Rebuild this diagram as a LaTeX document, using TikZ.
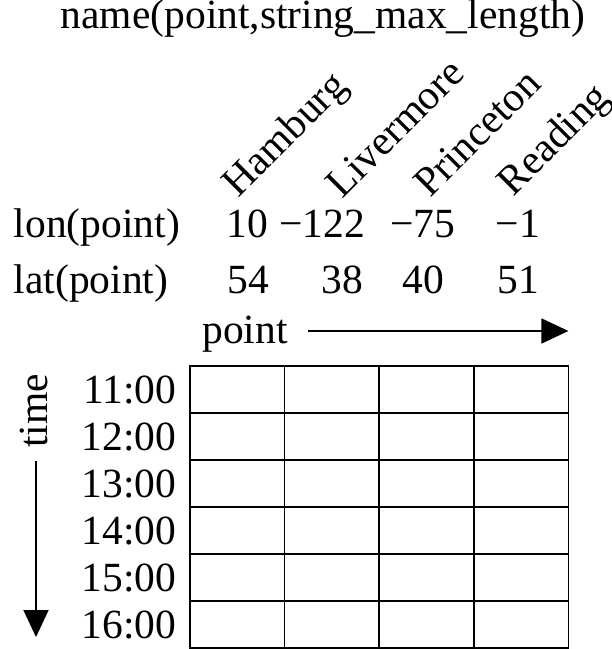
\documentclass[tikz,border=0pt]{standalone}
\usepackage{fontspec}
\setmainfont{Liberation Serif}
\usetikzlibrary{arrows.meta,positioning}

\begin{document}
\begin{tikzpicture}[x=1bp,y=-1bp,line width=1.7bp,
                    font=\fontsize{41.5bp}{49bp}\selectfont]
\tikzset{CellStyle/.style = {draw,rectangle,inner sep=0pt,
                             minimum width=94.6bp,minimum height=47bp},
         TextStyle/.style = {inner sep=0pt},
         CityStyle/.style = {TextStyle,rotate=45,anchor=base west},
         AxisStyle/.style = {-{Triangle[length=27bp,width=25bp]},
                             line width=1.8bp}}
\useasboundingbox (0,0) rectangle (612,649);
\node[TextStyle,anchor=base] (title) at (323,29) {name(point,string\_max\_length)};
\node[CityStyle] (hamburg)   at (238,199) {Hamburg};
\node[CityStyle] (livermore) at (342,200) {Livermore};
\node[CityStyle] (princeton) at (430,199) {Princeton};
\node[CityStyle] (reading)   at (513,198) {Reading};
\node[TextStyle,anchor=base west] (lon) at (13,237) {lon(point)};
\node[TextStyle,anchor=base west] (lat) at (13,293) {lat(point)};
\foreach \x/\v/\n in {247/10/1, 322/−122/2, 423/−75/3, 518/−1/4}
  \node[TextStyle,anchor=base] (lon\n) at (\x,237) {\v};
\foreach \x/\v/\n in {248/54/1, 342/38/2, 423/40/3, 518/51/4}
  \node[TextStyle,anchor=base] (lat\n) at (\x,293) {\v};
\node[TextStyle,anchor=base] (point) at (245,343) {point};
\node[TextStyle,rotate=90] (time) at (34,411) {time};
% grid of cells
\foreach \r in {1,...,6}
  \foreach \c in {1,...,4}
    \node[CellStyle] (c\r\c) at ({190+94.6*(\c-0.5)},{366+47*(\r-0.5)}) {};
\foreach \r in {1,...,6}
  \node[TextStyle,left=12bp of c\r1] (hour\r) {\the\numexpr10+\r\relax:00};
\coordinate (pstart) at (308,331); \coordinate (pend) at (568.4,331);
\coordinate (tstart) at (36,461);  \coordinate (tend) at (36,637);
\draw[AxisStyle] (pstart) -- (pend);
\draw[AxisStyle] (tstart) -- (tend);
\end{tikzpicture}
\end{document}
